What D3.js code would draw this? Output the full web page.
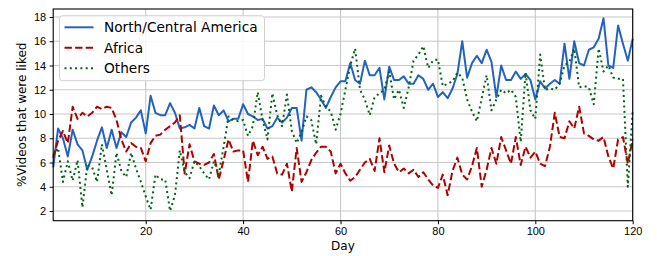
<!DOCTYPE html>
<html>
<head>
<meta charset="UTF-8">
<script src="https://d3js.org/d3.v7.min.js"></script>
<style>
  body { margin: 0; background: #fff; }
  svg { display: block; font-family: "DejaVu Sans", sans-serif; }
  .tick text { font-size: 11px; fill: #000; }
  .tick line { stroke: #000; }
</style>
</head>
<body>
<div id="chart"></div>
<script>
// days 1..120
const days = d3.range(1, 121);

const northCentral = [
  5.6, 8.8, 8.0, 6.5, 8.7, 7.5, 7.0, 5.4, 6.5, 7.8,
  8.9, 7.2, 8.7, 7.2, 8.5, 8.1, 9.3, 9.7, 10.3, 8.4,
  11.5, 10.1, 9.9, 9.9, 10.9, 10.1, 8.8, 8.9, 9.1, 8.8,
  10.5, 9.0, 8.8, 10.7, 9.9, 10.3, 9.4, 9.6, 9.6, 10.8,
  10.0, 9.8, 9.5, 9.6, 8.8, 9.0, 9.7, 9.3, 9.7, 10.5,
  10.5, 7.8, 12.0, 12.2, 11.8, 11.2, 10.5, 11.4, 12.2, 12.7,
  12.7, 14.2, 12.8, 12.5, 14.4, 13.2, 13.2, 13.8, 11.2, 13.9,
  12.8, 12.8, 13.1, 12.5, 12.5, 13.2, 12.9, 12.0, 12.5, 11.4,
  11.8, 11.3, 12.1, 13.3, 16.0, 13.0, 14.2, 14.8, 14.2, 15.3,
  14.3, 11.4, 14.0, 12.8, 12.8, 13.5, 12.9, 13.3, 12.8, 11.2,
  12.7, 12.1, 12.5, 12.8, 12.5, 15.8, 12.9, 16.0, 14.2, 14.0,
  15.3, 15.5, 16.2, 17.9, 14.0, 13.8, 17.3, 15.8, 14.4, 16.2
];

const africa = [
  6.4, 7.8, 8.6, 7.6, 10.6, 9.6, 10.1, 9.8, 10.1, 10.6,
  10.4, 10.6, 10.5, 9.5, 7.9, 6.9, 7.6, 7.3, 7.2, 6.1,
  7.6, 8.2, 8.3, 8.7, 9.0, 9.3, 9.9, 5.1, 7.5, 6.1,
  5.9, 5.8, 6.0, 6.7, 4.6, 6.2, 7.9, 6.9, 7.0, 7.0,
  4.4, 7.8, 6.6, 7.3, 6.3, 6.5, 5.1, 5.0, 5.9, 3.6,
  7.2, 4.4, 5.2, 6.2, 6.8, 7.3, 7.3, 6.9, 5.1, 5.9,
  5.1, 4.5, 4.8, 5.4, 6.0, 6.3, 5.3, 8.0, 5.2, 7.4,
  5.9, 5.2, 5.5, 5.1, 5.4, 4.8, 5.2, 4.6, 4.1, 3.9,
  5.0, 3.3, 5.3, 6.4, 5.0, 4.6, 5.7, 7.2, 4.0, 5.4,
  7.2, 5.9, 8.1, 7.0, 5.9, 8.1, 5.8, 7.3, 6.4, 6.9,
  5.9, 5.7, 7.3, 10.1, 8.1, 8.0, 9.4, 8.8, 10.6, 8.4,
  8.2, 7.9, 7.8, 8.1, 6.5, 5.5, 7.9, 8.1, 5.9, 7.9
];

const others = [
  6.6, 7.2, 4.4, 6.1, 4.5, 6.2, 2.3, 5.8, 5.6, 4.4,
  7.5, 5.4, 3.3, 6.8, 5.3, 4.8, 6.8, 5.5, 4.4, 3.2,
  2.1, 5.0, 4.6, 4.6, 2.0, 3.3, 7.0, 5.2, 4.7, 6.1,
  5.7, 5.1, 4.6, 6.1, 5.0, 7.3, 9.8, 9.5, 9.4, 9.5,
  8.2, 9.0, 11.8, 9.5, 7.9, 11.7, 9.9, 9.0, 11.6, 8.6,
  7.6, 8.5, 9.8, 9.5, 7.5, 11.5, 10.6, 10.2, 8.7, 10.0,
  12.0, 14.0, 15.4, 12.0, 11.2, 9.9, 11.4, 11.7, 12.0, 13.5,
  11.2, 12.0, 10.5, 12.2, 14.4, 14.9, 15.6, 13.8, 14.4, 14.5,
  12.3, 12.5, 12.7, 13.4, 13.0, 11.2, 10.2, 9.4, 11.3, 13.2,
  10.3, 11.2, 12.0, 11.7, 12.0, 11.4, 7.7, 13.4, 10.3, 9.6,
  14.9, 12.0, 12.1, 12.0, 12.5, 14.0, 14.3, 15.4, 12.2, 12.3,
  12.2, 10.8, 15.4, 13.5, 14.0, 13.0, 12.9, 12.9, 4.0, 10.3
];

const xTicks = [20, 40, 60, 80, 100, 120];
const yTicks = [2, 4, 6, 8, 10, 12, 14, 16, 18];

const series = [
  {name: "North/Central America", values: northCentral, color: "#2462c2", dash: null},
  {name: "Africa", values: africa, color: "#b00000", dash: "7.4,3.2"},
  {name: "Others", values: others, color: "#006414", dash: "2,3.3"}
];

const W = 657, H = 256;
const mLeft = 53.2, mRight = 632.7, mTop = 9, mBottom = 220.7;

const svg = d3.select("#chart").append("svg")
    .attr("width", W)
    .attr("height", H);

const x = d3.scaleLinear().domain([1, 120]).range([mLeft, mRight]);
const y = d3.scaleLinear().domain([1.2, 18.66]).range([mBottom, mTop]);

// grid
svg.append("g").selectAll("line")
    .data(xTicks).enter().append("line")
    .attr("x1", d => x(d)).attr("x2", d => x(d))
    .attr("y1", mTop).attr("y2", mBottom)
    .attr("stroke", "#c8c8c8").attr("stroke-width", 1.1);
svg.append("g").selectAll("line")
    .data(yTicks).enter().append("line")
    .attr("x1", mLeft).attr("x2", mRight)
    .attr("y1", d => y(d)).attr("y2", d => y(d))
    .attr("stroke", "#c8c8c8").attr("stroke-width", 1.1);

// lines
const line = d3.line()
    .x((d, i) => x(days[i]))
    .y(d => y(d));

const plot = svg.append("g");
series.forEach(s => {
    plot.append("path")
        .datum(s.values)
        .attr("fill", "none")
        .attr("stroke", s.color)
        .attr("stroke-width", 2)
        .attr("stroke-dasharray", s.dash)
        .attr("stroke-linejoin", "round")
        .attr("d", line);
});

// axes
svg.append("g")
    .attr("transform", `translate(0,${mBottom})`)
    .call(d3.axisBottom(x).tickValues(xTicks).tickSize(3.5).tickPadding(3.5))
    .call(g => g.select(".domain").remove());

svg.append("g")
    .attr("transform", `translate(${mLeft},0)`)
    .call(d3.axisLeft(y).tickValues(yTicks).tickSize(3.5).tickPadding(3.5))
    .call(g => g.select(".domain").remove());

// frame
svg.append("rect")
    .attr("x", mLeft).attr("y", mTop)
    .attr("width", mRight - mLeft).attr("height", mBottom - mTop)
    .attr("fill", "none").attr("stroke", "#000").attr("stroke-width", 1.1);

// axis titles
svg.append("text")
    .attr("x", (mLeft + mRight) / 2)
    .attr("y", 250)
    .attr("text-anchor", "middle")
    .style("font-size", "12px")
    .text("Day");

svg.append("text")
    .attr("transform", `translate(26,${(mTop + mBottom) / 2}) rotate(-90)`)
    .attr("text-anchor", "middle")
    .style("font-size", "12px")
    .text("%Videos that were liked");

// legend
const legend = svg.append("g").attr("transform", "translate(59.5,15.7)");
legend.append("rect")
    .attr("width", 205).attr("height", 65)
    .attr("rx", 3)
    .attr("fill", "#fff").attr("fill-opacity", 0.85)
    .attr("stroke", "#d0d0d0");

series.forEach((s, i) => {
    const yy = 11.6 + i * 20.5;
    legend.append("line")
        .attr("x1", 5).attr("x2", 34)
        .attr("y1", yy).attr("y2", yy)
        .attr("stroke", s.color)
        .attr("stroke-width", 2)
        .attr("stroke-dasharray", s.dash);
    legend.append("text")
        .attr("x", 44.5).attr("y", yy + 5)
        .style("font-size", "13.7px")
        .text(s.name);
});
</script>
</body>
</html>
